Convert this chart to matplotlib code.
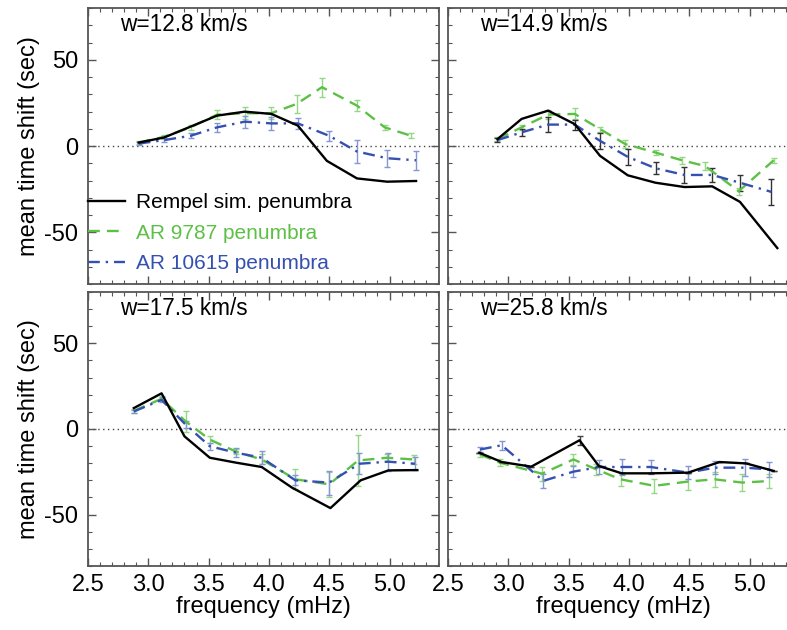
import matplotlib
matplotlib.use("Agg")
import matplotlib.pyplot as plt
from matplotlib.ticker import MultipleLocator

plt.rcParams['font.family'] = ['Liberation Sans', 'DejaVu Sans']
plt.rcParams['axes.unicode_minus'] = False

# ---- data (frequency in mHz, time shift in sec) ----
titles = ["w=12.8 km/s", "w=14.9 km/s", "w=17.5 km/s", "w=25.8 km/s"]
labels = ["Rempel sim. penumbra", "AR 9787 penumbra", "AR 10615 penumbra"]

# w = 12.8 km/s
f1_sim = [2.92, 3.13, 3.35, 3.57, 3.80, 4.02, 4.24, 4.48, 4.73, 4.98, 5.22]
t1_sim = [2.1, 5.0, 11.3, 17.7, 20.0, 18.7, 11.9, -8.5, -18.7, -20.6, -20.2]
f1_9787 = [2.92, 3.13, 3.35, 3.57, 3.80, 4.02, 4.23, 4.44, 4.73, 4.96, 5.18]
t1_9787 = [2.1, 5.4, 10.9, 18.3, 19.1, 19.1, 24.5, 34.2, 23.5, 10.9, 6.0]
e1_9787 = [0.8, 1.0, 1.5, 2.6, 3.4, 3.4, 5.4, 5.6, 3.4, 1.5, 1.5]
f1_10615 = [2.92, 3.13, 3.35, 3.57, 3.80, 4.02, 4.24, 4.50, 4.73, 4.98, 5.22]
t1_10615 = [1.5, 3.5, 6.0, 10.9, 14.2, 13.2, 13.2, 6.0, -3.1, -7.0, -8.2]
e1_10615 = [0.8, 1.0, 1.5, 2.6, 3.4, 3.7, 3.2, 2.9, 6.4, 5.0, 5.6]

# w = 14.9 km/s
f2_sim = [2.91, 3.11, 3.33, 3.55, 3.76, 3.99, 4.22, 4.46, 4.69, 4.92, 5.23]
t2_sim = [4.1, 15.8, 20.6, 12.8, -5.6, -16.9, -21.2, -23.7, -23.3, -32.3, -59.1]
f2_9787 = [2.91, 3.11, 3.33, 3.55, 3.76, 3.97, 4.22, 4.44, 4.63, 4.91, 5.20]
t2_9787 = [4.1, 10.9, 18.3, 18.7, 9.9, 1.2, -3.7, -8.2, -11.5, -26.1, -8.2]
e2_9787 = [1.0, 1.5, 2.5, 3.2, 1.4, 2.1, 1.5, 2.1, 2.3, 2.0, 1.3]
f2_10615 = [2.91, 3.11, 3.33, 3.55, 3.76, 3.99, 4.22, 4.46, 4.69, 4.92, 5.18]
t2_10615 = [3.5, 8.0, 12.5, 12.5, 3.1, -6.2, -12.8, -16.7, -16.7, -21.2, -26.5]
e2_10615 = [1.0, 1.9, 4.3, 2.9, 4.5, 4.5, 3.4, 4.5, 3.9, 4.7, 7.6]

# w = 17.5 km/s
f3_sim = [2.88, 3.11, 3.30, 3.51, 3.73, 3.94, 4.19, 4.51, 4.76, 4.99, 5.23]
t3_sim = [12.2, 20.8, -4.3, -16.8, -19.7, -22.2, -34.2, -46.2, -30.0, -24.2, -24.0]
f3_9787 = [2.88, 3.11, 3.31, 3.51, 3.73, 3.94, 4.22, 4.50, 4.74, 4.98, 5.20]
t3_9787 = [10.6, 17.6, 4.4, -6.2, -13.3, -17.8, -29.4, -32.3, -18.4, -16.8, -17.8]
e3_9787 = [1.0, 1.5, 6.0, 1.9, 1.5, 2.9, 5.8, 7.2, 14.7, 2.1, 2.7]
f3_10615 = [2.88, 3.11, 3.31, 3.51, 3.73, 3.94, 4.22, 4.50, 4.75, 4.99, 5.21]
t3_10615 = [10.2, 17.0, 2.5, -10.1, -13.9, -16.8, -30.0, -31.3, -20.3, -19.1, -20.3]
e3_10615 = [1.0, 1.5, 2.0, 1.9, 2.6, 3.7, 2.9, 7.0, 6.0, 5.3, 3.9]

# w = 25.8 km/s
f4_sim = [2.76, 2.945, 3.19, 3.59, 3.75, 3.94, 4.18, 4.49, 4.75, 4.97, 5.20]
t4_sim = [-13.9, -19.3, -22.0, -6.6, -21.6, -25.9, -25.9, -25.5, -19.3, -20.1, -24.5]
e4_sim = [0.0, 0.0, 0.0, 2.6, 0.0, 0.0, 0.0, 0.0, 0.0, 0.0, 0.0]
f4_9787 = [2.765, 2.93, 3.28, 3.54, 3.73, 3.93, 4.21, 4.49, 4.71, 4.94, 5.16]
t4_9787 = [-14.9, -19.7, -26.1, -17.8, -23.6, -29.4, -33.2, -30.7, -29.4, -31.3, -30.4]
e4_9787 = [1.5, 2.0, 4.0, 3.0, 3.0, 3.9, 4.0, 4.8, 4.5, 4.8, 4.3]
f4_10615 = [2.765, 2.945, 3.29, 3.54, 3.755, 3.94, 4.18, 4.49, 4.71, 4.96, 5.16]
t4_10615 = [-12.0, -9.5, -30.3, -24.9, -22.2, -22.2, -22.2, -25.5, -22.6, -22.6, -23.6]
e4_10615 = [1.5, 2.6, 3.9, 3.4, 4.2, 4.5, 3.9, 3.9, 3.7, 4.8, 4.6]

GREEN = '#5dc046'
BLUE = '#3450b0'
GREEN_ERR = '#94d886'
BLUE_ERR = '#8496d4'
AXCOL = '#555555'

panels = [
    (f1_sim, t1_sim, None, f1_9787, t1_9787, e1_9787, f1_10615, t1_10615, e1_10615, BLUE_ERR),
    (f2_sim, t2_sim, None, f2_9787, t2_9787, e2_9787, f2_10615, t2_10615, e2_10615, '#333333'),
    (f3_sim, t3_sim, None, f3_9787, t3_9787, e3_9787, f3_10615, t3_10615, e3_10615, BLUE_ERR),
    (f4_sim, t4_sim, e4_sim, f4_9787, t4_9787, e4_9787, f4_10615, t4_10615, e4_10615, BLUE_ERR),
]

fig = plt.figure(figsize=(7.87, 6.30), dpi=100)

# axes rectangles (left, bottom, width, height) in figure fraction
rects = [
    [0.1118, 0.549, 0.446, 0.438],
    [0.5693, 0.549, 0.446, 0.438],
    [0.1118, 0.1016, 0.446, 0.435],
    [0.5693, 0.1016, 0.446, 0.435],
]

for i, (rect, p) in enumerate(zip(rects, panels)):
    fs, ts, es, fg, tg, eg, fb, tb, eb, bcol = p
    ax = fig.add_axes(rect)
    ax.axhline(0, color='#444444', ls=(0, (1, 2.5)), lw=1.0, zorder=1)

    if es is None:
        l_sim, = ax.plot(fs, ts, color='black', lw=1.7, zorder=4)
    else:
        c = ax.errorbar(fs, ts, yerr=es, color='black', lw=1.7, ecolor='#444444',
                        elinewidth=1, capsize=2, zorder=4)
        l_sim = c[0]
    c_g = ax.errorbar(fg, tg, yerr=eg, color=GREEN, lw=1.7, dashes=(5, 3),
                      ecolor=GREEN_ERR, elinewidth=1, capsize=2, zorder=3)
    c_b = ax.errorbar(fb, tb, yerr=eb, color=BLUE, lw=1.7, dashes=(5, 2.5, 1, 2.5),
                      ecolor=bcol, elinewidth=1, capsize=2, zorder=3)

    ax.set_xlim(2.5, 5.41)
    ax.set_ylim(-80, 80)
    ax.xaxis.set_major_locator(MultipleLocator(0.5))
    ax.xaxis.set_minor_locator(MultipleLocator(0.1))
    ax.yaxis.set_major_locator(MultipleLocator(50))
    ax.yaxis.set_minor_locator(MultipleLocator(10))
    ax.tick_params(which='both', direction='in', top=True, right=True,
                   color=AXCOL, labelsize=17)
    ax.tick_params(which='major', length=6, width=1)
    ax.tick_params(which='minor', length=3, width=0.8)
    ax.tick_params(axis='x', pad=6)
    ax.tick_params(axis='y', pad=7)
    ax.xaxis.set_major_formatter(plt.FuncFormatter(lambda v, _: '%.1f' % v))
    for s in ax.spines.values():
        s.set_color(AXCOL)
        s.set_linewidth(1.3)

    if i % 2 == 1:
        ax.tick_params(labelleft=False)
    else:
        ax.set_ylabel('mean time shift (sec)', fontsize=17, labelpad=3)
    if i < 2:
        ax.tick_params(labelbottom=False)
    else:
        ax.set_xlabel('frequency (mHz)', fontsize=17, labelpad=0)

    ax.text(0.09, 0.94, titles[i], transform=ax.transAxes, fontsize=16.3,
            ha='left', va='center')

    if i == 0:
        ax.legend([l_sim, c_g[0], c_b[0]], labels, loc='lower left',
                  bbox_to_anchor=(0.0, 0.04), borderaxespad=0, borderpad=0,
                  frameon=False, fontsize=15, handlelength=1.8,
                  handletextpad=0.5, labelspacing=0.55,
                  labelcolor=['black', GREEN, BLUE])

fig.savefig('out.png', dpi=100)
